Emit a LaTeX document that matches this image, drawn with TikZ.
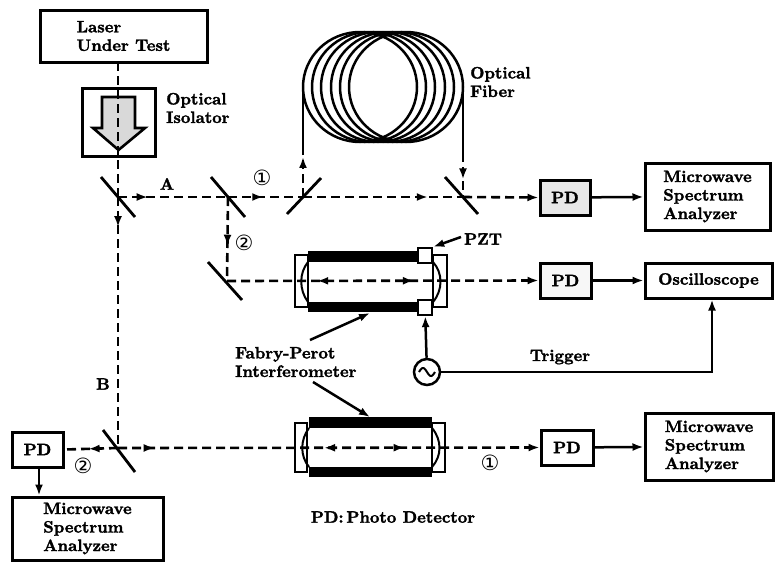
\documentclass[tikz,border=0pt]{standalone}
\usepackage{fontspec}
\setmainfont{lmroman10-regular.otf}[BoldFont=lmroman10-bold.otf,BoldFeatures={FakeBold=1.8}]
\newfontfamily\circfont{DejaVu Sans}
\usetikzlibrary{arrows.meta,decorations.markings}
\begin{document}
\begin{tikzpicture}[x=1pt,y=-1pt,
  font=\fontsize{16.5}{18.5}\selectfont\bfseries,
  >={Latex[length=11pt,width=8pt]},
  box/.style={draw,line width=3pt,inner sep=0pt,align=left,fill=white},
  beam/.style={line width=2.6pt,dash pattern=on 9pt off 5pt},
  wire/.style={line width=2.5pt},
  mirror/.style={line width=2.8pt},
  fiber/.style={line width=2.5pt},
  tube/.style={fill=black},
  endcap/.style={draw,line width=2.3pt,fill=white},
  pztbox/.style={draw,line width=2.3pt,fill=white,minimum width=14pt,minimum height=15pt,inner sep=0pt},
  circnum/.style={font=\circfont\fontsize{21}{21}\selectfont,inner sep=0pt},
  lbl/.style={inner sep=0pt,align=left},
  fwd/.style={postaction={decorate,decoration={markings,mark=at position #1 with {\arrow{>}}}}},
  bwd/.style={postaction={decorate,decoration={markings,mark=at position #1 with {\arrow{<}}}}}]
\useasboundingbox (0,0) rectangle (778,568);

% ---------- boxes ----------
\node[box,minimum width=167pt,minimum height=52pt] (laser) at (123.5,36) {Laser\\Under Test};
\node[box,minimum width=73pt,minimum height=68pt] (iso) at (118.5,122) {};
\node[box,minimum width=50pt,minimum height=35pt,fill=gray!18] (pd1) at (565,197.5) {PD};
\node[box,minimum width=125pt,minimum height=67pt] (msa1) at (707.5,196.5) {Microwave\\Spectrum\\Analyzer};
\node[box,minimum width=51pt,minimum height=35pt,fill=gray!6] (pd2) at (565.5,280.5) {PD};
\node[box,minimum width=127pt,minimum height=35pt] (osc) at (708.5,280.5) {Oscilloscope};
\node[box,minimum width=52pt,minimum height=35pt] (pd3) at (567,447.5) {PD};
\node[box,minimum width=128pt,minimum height=67pt] (msa3) at (709,446.5) {Microwave\\Spectrum\\Analyzer};
\node[box,minimum width=51pt,minimum height=35pt] (pd4) at (37.5,449.5) {PD};
\node[box,minimum width=151pt,minimum height=63pt] (msa4) at (87.5,528.5) {Microwave\\Spectrum\\Analyzer};

% isolator arrow symbol
\draw[line width=2.6pt,fill=gray!30] (102,97) -- (135,97) -- (135,128) -- (145,128)
  -- (118.5,150) -- (93,128) -- (102,128) -- cycle;

% ---------- mirror / splitter positions ----------
\coordinate (m1) at (118,197);
\coordinate (m2) at (228,197);
\coordinate (m3) at (303,197);
\coordinate (m4) at (463,197);
\coordinate (m5) at (227,281);
\coordinate (m6) at (118,448);
\coordinate (fin) at (303,151);
\coordinate (fout) at (463,153);
\coordinate (lasout) at (118,62);

\draw[mirror] (m1) +(-17,-20) -- +(17,20);
\draw[mirror] (m2) +(-17,-20) -- +(17,20);
\draw[mirror] (m3) +(-16,17) -- +(18,-19);
\draw[mirror] (m4) +(-18,-20) -- +(15,17);
\draw[mirror] (m5) +(-19,-19) -- +(15,19);
\draw[mirror] (m6) +(-15,-18) -- +(17,24);

% ---------- optical fiber coil ----------
\foreach \cx in {360,369,378,388,397,406}
  \draw[fiber] (\cx,87) ellipse [x radius=57, y radius=55];
\draw[fiber] (fin) -- (303,87);
\draw[fiber] (463,87) -- (fout);

% ---------- Fabry-Perot interferometers ----------
% upper one (with PZT)
\begin{scope}[shift={(295,281)}]
  \draw[endcap] (0,-26) rectangle (13,26);
  \draw[endcap] (138,-26) rectangle (152,26);
  \fill[tube] (13,-30) rectangle (125,-19);
  \fill[tube] (13,21) rectangle (125,31);
  \draw[line width=2pt] (13,-19) .. controls (4,-8) and (4,9) .. (13,21);
  \draw[line width=2pt] (138,-19) .. controls (148,-8) and (148,9) .. (138,21);
\end{scope}
\node[pztbox] (pztT) at (425,255.5) {};
\node[pztbox] (pztB) at (425,307.5) {};
% lower one
\begin{scope}[shift={(295,448)}]
  \draw[endcap] (0,-25) rectangle (12,24);
  \draw[endcap] (137,-25) rectangle (150,24);
  \fill[tube] (14,-31) rectangle (137,-20);
  \fill[tube] (14,19) rectangle (137,29);
  \draw[line width=2pt] (14,-20) .. controls (5,-8) and (5,8) .. (14,19);
  \draw[line width=2pt] (137,-20) .. controls (147,-8) and (147,8) .. (137,19);
\end{scope}
\coordinate (fp1bar) at (370,313);
\coordinate (fp2bar) at (370,417);

% ---------- optical paths ----------
\draw[beam] (lasout) -- (m1);
\draw[beam,fwd=0.27] (m1) -- (m2);
\draw[beam,fwd=0.47] (m2) -- (m3);
\draw[beam,fwd=0.78] (m3) -- (m4);
\draw[beam,fwd=0.87] (m3) -- (fin);
\draw[beam,fwd=0.6] (fout) -- (m4);
\draw[beam,->] (m4) -- (pd1.west);
\draw[beam,fwd=0.58] (m2) -- (m5);
\draw[beam,->,bwd=0.325,fwd=0.6] (m5) -- (pd2.west);
\draw[beam,fwd=0.12] (m1) -- (m6);
\draw[beam,fwd=0.55] (m6) -- (pd4.east);
\draw[beam,->,fwd=0.087,bwd=0.515,fwd=0.68] (m6) -- (pd3.west);

% ---------- electrical connections ----------
\draw[wire,->] (pd1) -- (msa1);
\draw[wire,->] (pd2) -- (osc);
\draw[wire,->] (pd3) -- (msa3);
\draw[wire,->] (pd4.south -| 39,0) -- (msa4.north -| 39,0);

\node[draw,circle,line width=2.5pt,minimum size=26pt,inner sep=0pt] (gen) at (427,372) {};
\draw[line width=2pt,domain=-1:1,samples=30] plot ({427+8*\x},{372-4*sin(180*(\x+1))});
\draw[wire,->] (gen) -- (pztB);
\draw[wire,->] (gen.east) -| (osc.south -| 712,0);

% ---------- labels ----------
\node[lbl,anchor=west] (isolbl) at (166,108) {Optical\\Isolator};
\node[lbl,anchor=west] (fiblbl) at (470,82) {Optical\\Fiber};
\node[lbl] (albl) at (167,184) {A};
\node[lbl] (blbl) at (103,384) {B};
\node[lbl,anchor=west] (pztlbl) at (464,239) {PZT};
\node[lbl] (trig) at (560,357) {Trigger};
\node[lbl,anchor=west] (fplbl) at (235,362) {Fabry-Perot\\Interferometer};
\node[lbl] (legend) at (393,517) {PD:\,Photo Detector};

\node[circnum] (n1a) at (262,178) {①};
\node[circnum] (n2a) at (244,243) {②};
\node[circnum] (n2b) at (83,466) {②};
\node[circnum] (n1b) at (490,463) {①};

\draw[wire,->] (pztlbl.west) ++(-3,-2) coordinate (pzts) (pzts) -- (pztT.north east);
\coordinate (fps1) at (310,340);
\coordinate (fps2) at (313,382);
\draw[wire,->] (fps1) -- (fp1bar);
\draw[wire,->] (fps2) -- (fp2bar);
\end{tikzpicture}
\end{document}
